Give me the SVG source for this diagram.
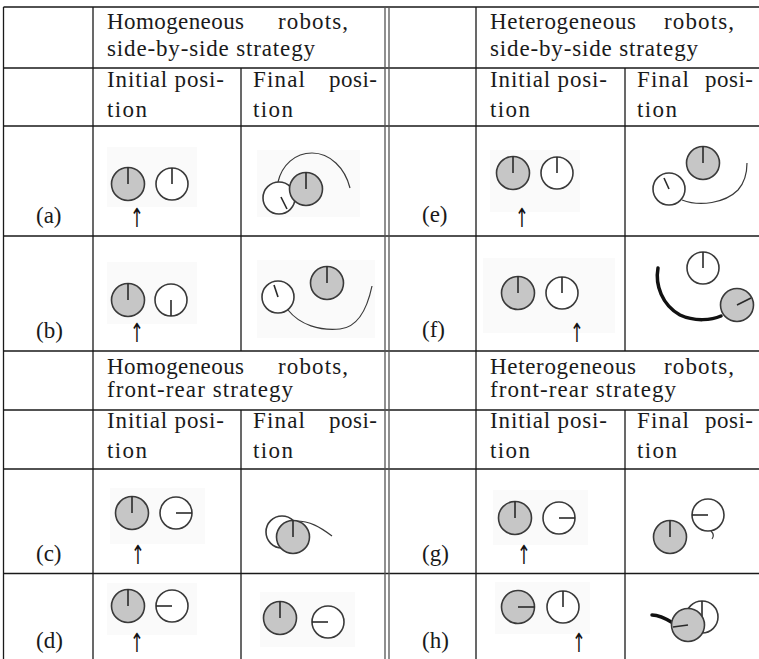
<svg xmlns="http://www.w3.org/2000/svg" width="759" height="659" viewBox="0 0 759 659">
<style>
.t{font-family:"Liberation Serif","Times New Roman",serif;font-size:23px;fill:#1a1a1a}
.ar{font-family:"DejaVu Sans","Liberation Sans",sans-serif;font-size:22px;fill:#111;text-anchor:middle}
.grid{stroke:#1a1a1a;stroke-width:1.3;fill:none}
.dbl{stroke:#555;stroke-width:1.3;fill:none}
.bg{fill:#fafafa}
.rg{fill:#c6c6c6;stroke:#3a3a3a;stroke-width:1.6}
.rw{fill:#fff;stroke:#3a3a3a;stroke-width:1.6}
.hd{stroke:#2a2a2a;stroke-width:1.6;fill:none}
.tr{stroke:#3a3a3a;stroke-width:1.2;fill:none}
.tk{stroke:#111;stroke-width:3.5;fill:none;stroke-linecap:round}
</style>
<rect width="759" height="659" fill="#fff"/>
<g id="grid">
<path class="grid" d="M3.5 7H759M3.5 68H759M3.5 126H759M3.5 236H759M3.5 351H759M3.5 410H759M3.5 469H759M3.5 573.5H759"/>
<path class="grid" d="M3.5 7V659M93 7V659M476 7V659M241 68V351M241 410V659M625 68V351M625 410V659"/>
<path class="dbl" d="M385 7V659M389 7V659"/>
</g>
<g id="headers">
<text class="t" x="107" y="29" textLength="137" lengthAdjust="spacing">Homogeneous</text><text class="t" x="278" y="29" textLength="70" lengthAdjust="spacing">robots,</text>
<text class="t" x="107" y="56" textLength="208" lengthAdjust="spacing">side-by-side strategy</text>
<text class="t" x="107" y="87" textLength="117" lengthAdjust="spacing">Initial posi-</text><text class="t" x="107" y="117" textLength="40" lengthAdjust="spacing">tion</text>
<text class="t" x="253" y="87" textLength="52" lengthAdjust="spacing">Final</text><text class="t" x="329" y="87" textLength="48" lengthAdjust="spacing">posi-</text><text class="t" x="253" y="117" textLength="40" lengthAdjust="spacing">tion</text>
<text class="t" x="490" y="29" textLength="146" lengthAdjust="spacing">Heterogeneous</text><text class="t" x="664" y="29" textLength="70" lengthAdjust="spacing">robots,</text>
<text class="t" x="490" y="56" textLength="208" lengthAdjust="spacing">side-by-side strategy</text>
<text class="t" x="490" y="87" textLength="117" lengthAdjust="spacing">Initial posi-</text><text class="t" x="490" y="117" textLength="40" lengthAdjust="spacing">tion</text>
<text class="t" x="637" y="87" textLength="52" lengthAdjust="spacing">Final</text><text class="t" x="705" y="87" textLength="48" lengthAdjust="spacing">posi-</text><text class="t" x="637" y="117" textLength="40" lengthAdjust="spacing">tion</text>
<text class="t" x="107" y="374" textLength="137" lengthAdjust="spacing">Homogeneous</text><text class="t" x="278" y="374" textLength="70" lengthAdjust="spacing">robots,</text>
<text class="t" x="107" y="397" textLength="186" lengthAdjust="spacing">front-rear strategy</text>
<text class="t" x="107" y="428" textLength="117" lengthAdjust="spacing">Initial posi-</text><text class="t" x="107" y="458" textLength="40" lengthAdjust="spacing">tion</text>
<text class="t" x="253" y="428" textLength="52" lengthAdjust="spacing">Final</text><text class="t" x="329" y="428" textLength="48" lengthAdjust="spacing">posi-</text><text class="t" x="253" y="458" textLength="40" lengthAdjust="spacing">tion</text>
<text class="t" x="490" y="374" textLength="146" lengthAdjust="spacing">Heterogeneous</text><text class="t" x="664" y="374" textLength="70" lengthAdjust="spacing">robots,</text>
<text class="t" x="490" y="397" textLength="186" lengthAdjust="spacing">front-rear strategy</text>
<text class="t" x="490" y="428" textLength="117" lengthAdjust="spacing">Initial posi-</text><text class="t" x="490" y="458" textLength="40" lengthAdjust="spacing">tion</text>
<text class="t" x="637" y="428" textLength="52" lengthAdjust="spacing">Final</text><text class="t" x="705" y="428" textLength="48" lengthAdjust="spacing">posi-</text><text class="t" x="637" y="458" textLength="40" lengthAdjust="spacing">tion</text>
</g>
<g id="labels">
<text class="t" x="36" y="223">(a)</text>
<text class="t" x="36" y="338">(b)</text>
<text class="t" x="36" y="561">(c)</text>
<text class="t" x="36" y="648">(d)</text>
<text class="t" x="422" y="222">(e)</text>
<text class="t" x="422" y="337">(f)</text>
<text class="t" x="422" y="561">(g)</text>
<text class="t" x="422" y="648">(h)</text>
</g>
<g id="row-a">
<rect class="bg" x="107" y="147" width="90" height="60"/>
<circle class="rg" cx="128" cy="184" r="16.5"/><path class="hd" d="M128 184V167.5"/>
<circle class="rw" cx="172" cy="184" r="16"/><path class="hd" d="M172 184V168"/>
<text class="ar" transform="translate(137 227) scale(0.75 1.2)">↑</text>
<rect class="bg" x="257" y="150" width="103" height="67"/>
<path class="tr" d="M278 182C282 165 295 153 312 153C330 153 345 168 350 188"/>
<circle class="rw" cx="279" cy="198" r="16"/><path class="hd" d="M281 197L287 209"/>
<circle class="rg" cx="306" cy="189" r="16.5"/><path class="hd" d="M306 189V172.5"/>
</g>
<g id="row-b">
<rect class="bg" x="107" y="262" width="90" height="62"/>
<circle class="rg" cx="128" cy="300" r="16.5"/><path class="hd" d="M128 300V283.5"/>
<circle class="rw" cx="171" cy="300" r="16"/><path class="hd" d="M171 300V316"/>
<text class="ar" transform="translate(137 342) scale(0.75 1.2)">↑</text>
<rect class="bg" x="257" y="260" width="118" height="78"/>
<path class="tr" d="M288 310C300 325 320 331 340 329C360 327 368 305 372 286"/>
<circle class="rw" cx="278" cy="297" r="16"/><path class="hd" d="M278 297L274 285"/>
<circle class="rg" cx="327" cy="283" r="16.5"/><path class="hd" d="M327 283V266.5"/>
</g>
<g id="row-e">
<rect class="bg" x="490" y="150" width="90" height="62"/>
<circle class="rg" cx="513" cy="173" r="16.5"/><path class="hd" d="M513 173V156.5"/>
<circle class="rw" cx="557" cy="173" r="16"/><path class="hd" d="M557 173V157"/>
<text class="ar" transform="translate(522 227) scale(0.75 1.2)">↑</text>
<path class="tr" d="M682 200C700 207 725 203 738 190C746 181 747 170 747 163"/>
<circle class="rw" cx="669" cy="189" r="16"/><path class="hd" d="M669 189L664 178"/>
<circle class="rg" cx="703" cy="163" r="16.5"/><path class="hd" d="M703 163V146.5"/>
</g>
<g id="row-f">
<rect class="bg" x="483" y="258" width="132" height="75"/>
<circle class="rg" cx="518" cy="293" r="16.5"/><path class="hd" d="M518 293V276.5"/>
<circle class="rw" cx="562" cy="293" r="16"/><path class="hd" d="M562 293V277"/>
<text class="ar" transform="translate(577 342) scale(0.75 1.2)">↑</text>
<path class="tk" d="M658 268C655 285 662 305 680 315C695 322 712 320 721 316"/>
<circle class="rw" cx="703" cy="268" r="16"/><path class="hd" d="M703 268V252"/>
<circle class="rg" cx="737" cy="305" r="16.5"/><path class="hd" d="M737 305L751 298"/>
</g>
<g id="row-c">
<rect class="bg" x="110" y="488" width="95" height="56"/>
<circle class="rg" cx="132" cy="513" r="16.5"/><path class="hd" d="M132 513V496.5"/>
<circle class="rw" cx="176" cy="513" r="16"/><path class="hd" d="M176 513H192"/>
<text class="ar" transform="translate(138 564) scale(0.75 1.2)">↑</text>
<path class="tr" d="M296 521C310 521 320 527 332 536"/>
<circle class="rw" cx="282" cy="532" r="16"/>
<circle class="rg" cx="293" cy="537" r="16.5"/><path class="hd" d="M293 537V520.5"/>
</g>
<g id="row-d">
<rect class="bg" x="107" y="583" width="90" height="52"/>
<circle class="rg" cx="128" cy="606" r="16.5"/><path class="hd" d="M128 606V589.5"/>
<circle class="rw" cx="172" cy="606" r="16"/><path class="hd" d="M172 606H156"/>
<text class="ar" transform="translate(137 652) scale(0.75 1.2)">↑</text>
<rect class="bg" x="260" y="592" width="95" height="55"/>
<circle class="rg" cx="280" cy="618" r="16.5"/><path class="hd" d="M280 618V601.5"/>
<circle class="rw" cx="328" cy="622" r="16"/><path class="hd" d="M328 622H312"/>
</g>
<g id="row-g">
<rect class="bg" x="493" y="490" width="95" height="55"/>
<circle class="rg" cx="515" cy="518" r="16.5"/><path class="hd" d="M515 518V501.5"/>
<circle class="rw" cx="559" cy="518" r="16"/><path class="hd" d="M559 518H575"/>
<text class="ar" transform="translate(524 564) scale(0.75 1.2)">↑</text>
<circle class="rg" cx="670" cy="537" r="16.5"/><path class="hd" d="M670 537V520.5"/>
<path class="tr" d="M711 531Q715 535 712 539"/>
<circle class="rw" cx="708" cy="515" r="16"/><path class="hd" d="M708 515H692"/>
</g>
<g id="row-h">
<rect class="bg" x="495" y="582" width="95" height="52"/>
<circle class="rg" cx="518" cy="607" r="16.5"/><path class="hd" d="M518 607H534.5"/>
<circle class="rw" cx="563" cy="607" r="16"/><path class="hd" d="M563 607V591"/>
<text class="ar" transform="translate(579 652) scale(0.75 1.2)">↑</text>
<path class="tk" d="M652 615C659 615 665 618 673 623"/>
<circle class="rw" cx="702" cy="617" r="16"/><path class="hd" d="M702 617V601"/>
<circle class="rg" cx="688" cy="625" r="16.5"/><path class="hd" d="M688 625L673 627"/>
</g>
</svg>
